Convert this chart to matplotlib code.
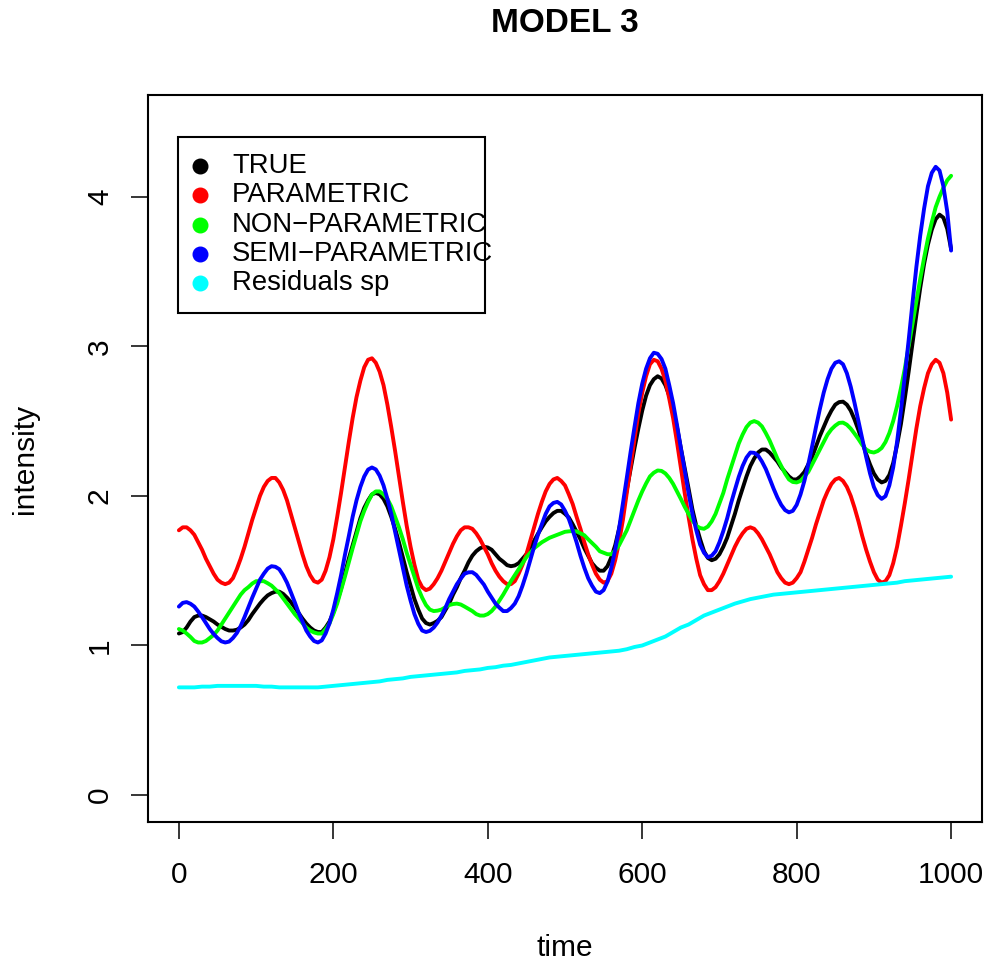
import numpy as np
import matplotlib
matplotlib.use("Agg")
import matplotlib.pyplot as plt
from matplotlib.patches import Rectangle

plt.rcParams['font.family'] = ['Liberation Sans', 'DejaVu Sans']

# fitted intensities on a grid of 5 time units
time = np.arange(0, 1001, 5)
# the residual smoother is coarser, every 10 units
time_res = np.arange(0, 1001, 10)

true_int = [
    1.08, 1.09, 1.12, 1.16, 1.19, 1.20, 1.20, 1.19, 1.175, 1.16,
    1.14, 1.125, 1.11, 1.10, 1.10, 1.105, 1.12, 1.14, 1.17, 1.21,
    1.245, 1.28, 1.31, 1.335, 1.35, 1.36, 1.36, 1.345, 1.32, 1.29,
    1.255, 1.217, 1.18, 1.147, 1.12, 1.10, 1.09, 1.09, 1.12, 1.16,
    1.22, 1.295, 1.38, 1.48, 1.58, 1.67, 1.76, 1.85, 1.92, 1.97,
    2.01, 2.02, 2.01, 1.98, 1.93, 1.86, 1.78, 1.69, 1.59, 1.49,
    1.40, 1.31, 1.24, 1.18, 1.15, 1.14, 1.15, 1.165, 1.19, 1.236,
    1.28, 1.34, 1.39, 1.45, 1.50, 1.556, 1.60, 1.63, 1.65, 1.66,
    1.655, 1.64, 1.61, 1.58, 1.56, 1.537, 1.53, 1.535, 1.55, 1.58,
    1.61, 1.656, 1.70, 1.747, 1.79, 1.83, 1.86, 1.885, 1.90, 1.90,
    1.88, 1.855, 1.81, 1.76, 1.71, 1.65, 1.60, 1.55, 1.52, 1.50,
    1.50, 1.53, 1.59, 1.67, 1.78, 1.90, 2.04, 2.18, 2.32, 2.45,
    2.57, 2.67, 2.74, 2.78, 2.80, 2.785, 2.74, 2.67, 2.57, 2.46,
    2.32, 2.185, 2.05, 1.91, 1.80, 1.71, 1.63, 1.585, 1.57, 1.58,
    1.61, 1.66, 1.72, 1.80, 1.88, 1.97, 2.05, 2.13, 2.20, 2.25,
    2.29, 2.31, 2.31, 2.29, 2.26, 2.23, 2.19, 2.16, 2.13, 2.11,
    2.11, 2.13, 2.16, 2.21, 2.26, 2.33, 2.40, 2.46, 2.52, 2.57,
    2.61, 2.627, 2.63, 2.61, 2.57, 2.51, 2.44, 2.36, 2.28, 2.21,
    2.15, 2.11, 2.09, 2.10, 2.14, 2.22, 2.34, 2.48, 2.65, 2.83,
    3.02, 3.21, 3.39, 3.55, 3.68, 3.78, 3.85, 3.88, 3.86, 3.785,
    3.65]

param_int = [
    1.77, 1.79, 1.79, 1.77, 1.74, 1.69, 1.64, 1.58, 1.53, 1.48,
    1.44, 1.42, 1.41, 1.42, 1.45, 1.51, 1.58, 1.66, 1.75, 1.84,
    1.92, 2.00, 2.06, 2.10, 2.12, 2.12, 2.09, 2.04, 1.97, 1.88,
    1.79, 1.70, 1.61, 1.53, 1.47, 1.43, 1.42, 1.44, 1.50, 1.59,
    1.71, 1.86, 2.02, 2.19, 2.36, 2.52, 2.66, 2.77, 2.86, 2.91,
    2.92, 2.89, 2.83, 2.74, 2.61, 2.46, 2.30, 2.13, 1.96, 1.80,
    1.66, 1.54, 1.44, 1.39, 1.37, 1.38, 1.41, 1.45, 1.50, 1.56,
    1.62, 1.68, 1.73, 1.77, 1.79, 1.79, 1.78, 1.75, 1.71, 1.66,
    1.61, 1.55, 1.50, 1.46, 1.43, 1.41, 1.41, 1.43, 1.48, 1.54,
    1.61, 1.70, 1.79, 1.88, 1.96, 2.03, 2.08, 2.11, 2.12, 2.10,
    2.07, 2.01, 1.945, 1.86, 1.78, 1.69, 1.61, 1.54, 1.48, 1.44,
    1.42, 1.43, 1.48, 1.57, 1.69, 1.84, 2.02, 2.20, 2.38, 2.55,
    2.69, 2.80, 2.88, 2.91, 2.90, 2.85, 2.77, 2.65, 2.52, 2.36,
    2.19, 2.02, 1.86, 1.71, 1.58, 1.47, 1.41, 1.37, 1.37, 1.39,
    1.43, 1.48, 1.54, 1.60, 1.66, 1.71, 1.75, 1.78, 1.79, 1.78,
    1.75, 1.71, 1.66, 1.61, 1.55, 1.49, 1.45, 1.42, 1.41, 1.42,
    1.45, 1.49, 1.56, 1.64, 1.72, 1.81, 1.89, 1.97, 2.03, 2.08,
    2.11, 2.12, 2.10, 2.06, 2.00, 1.92, 1.83, 1.73, 1.64, 1.56,
    1.49, 1.44, 1.42, 1.43, 1.47, 1.55, 1.66, 1.80, 1.95, 2.11,
    2.28, 2.45, 2.60, 2.72, 2.82, 2.88, 2.91, 2.89, 2.82, 2.69,
    2.51]

nonpar_int = [
    1.11, 1.10, 1.08, 1.057, 1.03, 1.02, 1.02, 1.03, 1.05, 1.07,
    1.10, 1.14, 1.18, 1.22, 1.26, 1.30, 1.34, 1.37, 1.39, 1.414,
    1.43, 1.43, 1.43, 1.416, 1.40, 1.375, 1.35, 1.315, 1.28, 1.245,
    1.21, 1.18, 1.15, 1.12, 1.10, 1.087, 1.08, 1.08, 1.11, 1.147,
    1.21, 1.28, 1.37, 1.46, 1.555, 1.65, 1.74, 1.83, 1.90, 1.96,
    2.01, 2.03, 2.03, 2.01, 1.98, 1.93, 1.86, 1.79, 1.71, 1.62,
    1.54, 1.46, 1.38, 1.32, 1.27, 1.24, 1.23, 1.233, 1.24, 1.255,
    1.27, 1.277, 1.28, 1.274, 1.26, 1.245, 1.23, 1.21, 1.20, 1.20,
    1.21, 1.23, 1.26, 1.30, 1.34, 1.385, 1.43, 1.47, 1.51, 1.55,
    1.59, 1.62, 1.65, 1.67, 1.69, 1.705, 1.72, 1.73, 1.74, 1.75,
    1.76, 1.763, 1.765, 1.763, 1.75, 1.737, 1.71, 1.685, 1.66, 1.63,
    1.62, 1.61, 1.61, 1.635, 1.67, 1.72, 1.77, 1.836, 1.90, 1.97,
    2.03, 2.083, 2.13, 2.155, 2.17, 2.167, 2.15, 2.12, 2.08, 2.03,
    1.98, 1.927, 1.88, 1.835, 1.80, 1.785, 1.78, 1.795, 1.83, 1.88,
    1.95, 2.02, 2.11, 2.19, 2.27, 2.35, 2.41, 2.46, 2.49, 2.50,
    2.49, 2.465, 2.42, 2.37, 2.31, 2.25, 2.20, 2.15, 2.11, 2.093,
    2.09, 2.10, 2.13, 2.16, 2.21, 2.26, 2.31, 2.36, 2.41, 2.445,
    2.47, 2.488, 2.49, 2.476, 2.45, 2.416, 2.38, 2.34, 2.31, 2.295,
    2.29, 2.30, 2.32, 2.36, 2.42, 2.50, 2.60, 2.72, 2.85, 3.00,
    3.15, 3.30, 3.45, 3.59, 3.72, 3.83, 3.93, 4.00, 4.06, 4.11,
    4.14]

semipar_int = [
    1.26, 1.285, 1.29, 1.279, 1.26, 1.227, 1.19, 1.15, 1.11, 1.077,
    1.05, 1.028, 1.02, 1.026, 1.05, 1.083, 1.13, 1.19, 1.255, 1.32,
    1.38, 1.44, 1.48, 1.514, 1.53, 1.526, 1.51, 1.47, 1.42, 1.356,
    1.29, 1.22, 1.16, 1.10, 1.06, 1.03, 1.02, 1.034, 1.08, 1.148,
    1.24, 1.35, 1.47, 1.605, 1.73, 1.86, 1.97, 2.06, 2.13, 2.176,
    2.19, 2.177, 2.135, 2.07, 1.98, 1.88, 1.76, 1.64, 1.52, 1.40,
    1.30, 1.21, 1.145, 1.10, 1.09, 1.098, 1.12, 1.154, 1.20, 1.25,
    1.31, 1.36, 1.41, 1.447, 1.48, 1.489, 1.49, 1.472, 1.44, 1.407,
    1.36, 1.32, 1.28, 1.253, 1.23, 1.23, 1.25, 1.28, 1.33, 1.40,
    1.48, 1.57, 1.66, 1.74, 1.81, 1.88, 1.93, 1.953, 1.96, 1.943,
    1.90, 1.845, 1.77, 1.69, 1.60, 1.52, 1.45, 1.40, 1.36, 1.35,
    1.37, 1.426, 1.52, 1.64, 1.78, 1.95, 2.12, 2.295, 2.46, 2.62,
    2.75, 2.85, 2.92, 2.957, 2.95, 2.915, 2.85, 2.74, 2.62, 2.475,
    2.32, 2.17, 2.02, 1.88, 1.77, 1.674, 1.62, 1.59, 1.60, 1.63,
    1.69, 1.765, 1.85, 1.95, 2.04, 2.127, 2.20, 2.256, 2.29, 2.288,
    2.27, 2.23, 2.18, 2.116, 2.05, 1.99, 1.94, 1.905, 1.89, 1.90,
    1.94, 2.01, 2.10, 2.21, 2.33, 2.46, 2.58, 2.69, 2.78, 2.85,
    2.89, 2.90, 2.88, 2.82, 2.73, 2.62, 2.50, 2.38, 2.26, 2.15,
    2.06, 2.005, 1.98, 1.998, 2.07, 2.19, 2.36, 2.57, 2.80, 3.04,
    3.29, 3.53, 3.74, 3.92, 4.07, 4.16, 4.20, 4.175, 4.07, 3.90,
    3.64]

resid_sp = [
    0.72, 0.72, 0.72, 0.725, 0.725, 0.73, 0.73, 0.73, 0.73, 0.73,
    0.73, 0.725, 0.725, 0.72, 0.72, 0.72, 0.72, 0.72, 0.72, 0.725,
    0.73, 0.735, 0.74, 0.745, 0.75, 0.755, 0.76, 0.77, 0.775, 0.78,
    0.79, 0.795, 0.80, 0.805, 0.81, 0.815, 0.82, 0.83, 0.835, 0.84,
    0.85, 0.855, 0.865, 0.87, 0.88, 0.89, 0.90, 0.91, 0.92, 0.925,
    0.93, 0.935, 0.94, 0.945, 0.95, 0.955, 0.96, 0.965, 0.975, 0.99,
    1.00, 1.02, 1.04, 1.06, 1.09, 1.12, 1.14, 1.17, 1.20, 1.22,
    1.24, 1.26, 1.28, 1.295, 1.31, 1.32, 1.33, 1.34, 1.345, 1.35,
    1.355, 1.36, 1.365, 1.37, 1.375, 1.38, 1.385, 1.39, 1.395, 1.40,
    1.405, 1.41, 1.415, 1.42, 1.43, 1.435, 1.44, 1.445, 1.45, 1.455,
    1.46]

labels = ['TRUE', 'PARAMETRIC', 'NON\u2212PARAMETRIC', 'SEMI\u2212PARAMETRIC',
          'Residuals sp']
colors = ['black', '#FF0000', '#00FF00', '#0000FF', '#00FFFF']
series = [(time, true_int), (time, param_int), (time, nonpar_int),
          (time, semipar_int), (time_res, resid_sp)]

fig = plt.figure(figsize=(9.89, 9.65), dpi=100)
ax = fig.add_axes([148/989, 1-822/965, 834/989, 727/965])

for (t, y), c in zip(series, colors):
    ax.plot(t, y, color=c, lw=2.8, solid_capstyle='round',
            solid_joinstyle='round')

# R-style 4% padding
ax.set_xlim(-40, 1040)
ax.set_ylim(-0.18, 4.68)
ax.set_xticks([0, 200, 400, 600, 800, 1000])
ax.set_yticks([0, 1, 2, 3, 4])
ax.tick_params(axis='both', length=12.5, width=1.1, labelsize=21.5)
ax.tick_params(axis='x', pad=15.5)
ax.tick_params(axis='y', pad=12)
for lab in ax.get_yticklabels():
    lab.set_rotation(90)
    lab.set_va('center')
for s in ax.spines.values():
    s.set_linewidth(1.5)

ax.set_xlabel('time', fontsize=21.5)
ax.xaxis.set_label_coords(0.5, (822-948)/727)
ax.xaxis.label.set_va('center')
ax.set_ylabel('intensity', fontsize=21.5)
ax.yaxis.set_label_coords((25-148)/834, 0.5)
ax.yaxis.label.set_va('center')

ax.set_title('MODEL 3', fontsize=24, fontweight='bold', y=1+(95-24)/727,
             va='center', pad=0)

# legend box drawn by hand so long labels can run past the frame
ax.add_patch(Rectangle((0.036, 0.7006), 0.3684, 0.242, transform=ax.transAxes,
                       facecolor='white', edgecolor='black', lw=1.5, zorder=5))
rows = [0.9023, 0.862, 0.8216, 0.7813, 0.741]
for lab, c, yy in zip(labels, colors, rows):
    ax.plot([0.062], [yy], 'o', color=c, ms=10.5, transform=ax.transAxes,
            zorder=6, clip_on=False)
    ax.text(0.1007, yy, lab, transform=ax.transAxes, fontsize=19.8,
            va='center', ha='left', zorder=6)

fig.savefig('out.png', dpi=100)
